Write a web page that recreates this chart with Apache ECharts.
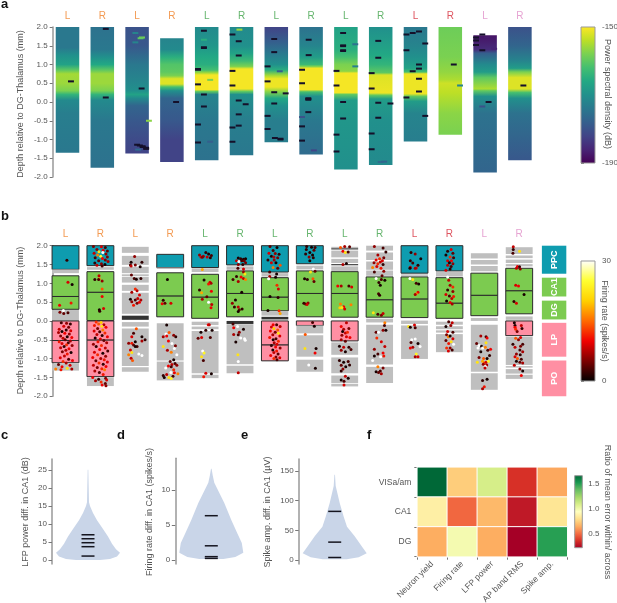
<!doctype html>
<html>
<head>
<meta charset="UTF-8">
<title></title>
<script src="https://cdn.jsdelivr.net/npm/echarts@6/dist/echarts.min.js"></script>
<style type="text/css">
	html,body{margin:0;padding:0;background:#fff;}
	#main{width:617px;height:603px;}
</style>
</head>
<body>
<div id="main"></div>
<script type="text/javascript">
var sides=['L','R','L','R','L','R','L','R','L','R','L','R','L','R'];
var labTeams=['#F39A52','#F39A52','#F39A52','#F39A52','#66B56E','#66B56E','#66B56E','#66B56E','#66B56E','#66B56E','#DE5560','#DE5560','#E6A3D2','#E6A3D2'];

// a: power along each probe, [depth mm, dB]
var power1=[[2,-174],[1.45,-174],[1.25,-170],[1,-167],[.85,-160],[.75,-155.5],[.5,-156],[.3,-158],[.2,-164],[.05,-171],[-.3,-173],[-1.35,-174]];
var power2=[[2,-175],[1.4,-174],[1.2,-170],[1,-166],[.85,-160],[.75,-156],[.5,-156],[.3,-158],[.2,-164],[.05,-171],[-.5,-174],[-1.75,-175]];
var power3=[[2,-180],[1.5,-179],[1.3,-177],[1,-174],[.6,-172],[.3,-170],[.2,-167],[.1,-171],[-.1,-177],[-.5,-179],[-1,-181],[-1.37,-182]];
var power4=[[1.7,-172],[1.4,-171],[1.2,-165],[1,-161],[.8,-160],[.7,-158],[.62,-152],[.48,-152],[.4,-162],[.3,-170],[.1,-177],[-.5,-179],[-1,-182],[-1.6,-182]];
var power5=[[2,-171],[1.5,-169],[1.2,-166],[1,-165],[.85,-162],[.78,-156],[.72,-150.5],[.33,-150.5],[.28,-160],[.2,-172],[-.5,-174],[-1.55,-175]];
var power6=[[2,-171],[1.5,-170],[1.3,-167],[1.1,-163],[.95,-158],[.88,-150.5],[.35,-150.5],[.28,-160],[.2,-170],[-.5,-173],[-1.42,-174]];
var power7=[[2,-182],[1.6,-178],[1.3,-174],[1,-170],[.85,-165],[.7,-155],[.62,-151],[.4,-151],[.28,-157],[.1,-166],[-.1,-170],[-.5,-173],[-1.07,-173]];
var power8=[[2,-175],[1.5,-172],[1.2,-168],[1,-163],[.95,-158],[.9,-150.5],[.33,-150.5],[.27,-162],[.15,-170],[-.5,-174],[-1.4,-176]];
var power9=[[2,-167],[1.4,-165],[1.2,-162],[1,-158],[.82,-157],[.77,-150.5],[.25,-150.5],[.2,-160],[.05,-168],[-.5,-169],[-1.8,-170]];
var power10=[[2,-170],[1.6,-168],[1.25,-166],[1,-164],[.78,-160],[.72,-152],[.24,-151],[.18,-160],[.08,-168],[-.5,-170],[-1.68,-171]];
var power11=[[2,-174],[1.5,-172],[1.2,-170],[.9,-167],[.8,-162],[.75,-151],[.22,-151],[.15,-160],[.02,-168],[-.3,-172],[-1.05,-173]];
var power12=[[2,-159],[1.2,-158],[.8,-156.5],[.6,-155],[.5,-153],[.25,-154],[-.3,-157],[-.87,-158]];
var power13=[[1.78,-188],[1.4,-185],[1.3,-178],[1,-171],[.8,-168],[.65,-160],[.35,-155],[.3,-160],[.15,-170],[-.3,-175],[-1.88,-177]];
var power14=[[2,-180],[1.5,-177],[1.1,-172],[.9,-168],[.8,-158],[.65,-152],[.35,-152],[.25,-162],[.1,-170],[-.3,-175],[-1.55,-179]];
var powerProbes=[power1,power2,power3,power4,power5,power6,power7,power8,power9,power10,power11,power12,power13,power14];

// a: bad channels, [offset, depth, dB], no dB means black
var dashes1=[[.1,.55]];
var dashes2=[[.1,1.95],[.1,.12]];
var dashes3=[[.13,.36],[.34,-.5,-157],[.14,1.72,-158],[.1,1.7,-160],[-.05,1.59,-172],[-.05,1.84,-172],[0,-1.14],[.08,-1.16],[.16,-1.18],[.26,-1.22],[.26,-1.25],[.16,-1.2],[.03,-1.27,-176]];
var dashes4=[[.12,0]];
var dashes5=[[-.08,1.9],[-.08,1.46],[-.08,1.44],[-.25,.88],[-.25,.86],[-.25,.47],[-.08,.2],[-.08,-.12],[-.25,-.6],[-.25,-1.08],[.1,.59,-158],[.1,-1.06,-178],[-.08,1.66,-165]];
var dashes6=[[-.06,1.93,-156],[-.26,1.8],[-.08,1.62],[-.08,1.24],[-.26,.83],[-.26,.44],[-.08,.04],[.12,-.06],[-.08,-.33],[-.08,-.63],[-.26,-.68],[-.26,-1.06]];
var dashes7=[[-.25,.95],[-.06,1.68],[-.06,1.33],[-.25,.55],[-.06,.26],[.27,.23],[-.06,-.04],[-.25,-.37],[-.25,-.72],[.1,.82,-178],[-.04,-.96],[.12,-1],[.12,-.98]];
var dashes8=[[-.07,1.66],[-.07,1.25],[-.26,.86],[-.26,.5],[-.08,.1],[-.08,.08],[-.08,.06],[-.08,-.27],[-.26,-.65],[-.26,-1.03],[.08,-1.29,-182],[-.26,-.4,-180]];
var dashes9=[[-.08,1.84],[-.08,1.51],[-.08,1.49],[-.08,1.38],[-.08,1.36],[-.27,.83],[-.27,.44],[-.08,0],[-.08,-.44],[-.27,-.87],[-.27,-1.32],[.27,1.54,-175],[.27,.95,-173]];
var dashes10=[[-.07,1.63],[-.07,1.18],[-.26,.77],[-.26,.36],[-.07,-.02],[.28,-.04],[-.07,-.42],[-.26,-.84],[-.26,-1.26],[0,-1.6,-176],[.1,-1.59,-177]];
var dashes11=[[-.26,1.8],[-.08,1.84],[.1,1.88],[.28,1.56],[-.26,1.38],[.1,1],[.1,.89],[-.08,.82],[.1,.62],[.1,.28],[-.26,.12],[.28,-.37]];
var dashes12=[[.1,1],[.28,.44,-172]];
var dashes13=[[.1,0],[-.08,-.12,-180],[-.08,1.8],[-.26,1.72],[.05,1.72,-187],[-.26,1.64],[-.26,1.52],[-.08,1.38],[.26,1.42,-186]];
var dashes14=[[.1,.44]];
var dashProbes=[dashes1,dashes2,dashes3,dashes4,dashes5,dashes6,dashes7,dashes8,dashes9,dashes10,dashes11,dashes12,dashes13,dashes14];

// b: brain regions along each probe, [top, bottom, region]
var regionNames=['PPC','CA1','DG','LP','PO','grey','dark'];
var regions1=[[2,1.37,0],[1.37,1.27,5],[1.2,.65,1],[.65,.31,2],[.29,0,5],[0,-.52,3],[-.52,-1.11,4],[-1.13,-1.32,5]];
var regions2=[[2,1.47,0],[1.43,1.36,5],[1.31,.76,1],[.76,.01,2],[0,-.51,3],[-.51,-1.48,4],[-1.5,-1.73,5]];
var regions3=[[1.97,1.81,5],[1.73,1.49,5],[1.44,1.27,5],[1.24,1.19,5],[1.17,1.02,5],[.96,.8,5],[.75,.19,5],[.14,.03,6],[-.03,-.15,5],[-.2,-1.2,5],[-1.23,-1.35,5]];
var regions4=[[1.77,1.42,0],[1.42,1.38,5],[1.28,.66,1],[.66,.11,2],[-.06,-1.05,5],[-1.08,-1.58,5]];
var regions5=[[2,1.42,0],[1.4,1.3,5],[1.24,.63,1],[.63,.07,2],[-.02,-.11,5],[-.15,-.22,5],[-.27,-1.39,5],[-1.43,-1.52,5]];
var regions6=[[2,1.49,0],[1.45,1.36,5],[1.33,.73,1],[.73,.11,2],[0,-.08,6],[-.09,-1.15,5],[-1.19,-1.39,5]];
var regions7=[[2,1.3,0],[1.27,1.18,5],[1.15,.63,1],[.63,.27,2],[.25,.14,5],[.11,.04,6],[0,-.64,3],[-.64,-1.06,4]];
var regions8=[[2,1.52,0],[1.47,1.37,5],[1.33,.73,1],[.73,.11,2],[0,-.12,3],[-.12,-.33,5],[-.38,-.95,5],[-1.03,-1.35,5]];
var regions9=[[1.97,1.93,5],[1.93,1.9,6],[1.87,1.69,5],[1.65,1.54,5],[1.51,1.48,6],[1.45,1.33,5],[1.31,.73,1],[.73,.1,2],[0,-.53,3],[-.57,-.9,5],[-.97,-1.39,5],[-1.45,-1.65,5],[-1.67,-1.74,5]];
var regions10=[[2,1.87,5],[1.82,1.62,5],[1.58,1.36,5],[1.34,1.2,5],[1.17,.56,1],[.56,.1,2],[.06,-.04,5],[-.1,-1.16,5],[-1.22,-1.65,5]];
var regions11=[[2,1.27,0],[1.24,1.2,5],[1.17,.58,1],[.58,.09,2],[.01,-.08,5],[-.12,-1.01,5]];
var regions12=[[2,1.33,0],[1.3,1.18,5],[1.15,.47,1],[.47,.07,2],[-.02,-.1,5],[-.14,-.22,5],[-.25,-.31,5],[-.35,-.83,5]];
var regions13=[[1.8,1.66,5],[1.62,1.5,5],[1.46,1.32,5],[1.27,.68,1],[.68,.14,2],[.08,0,5],[-.1,-1.35,5],[-1.39,-1.83,5]];
var regions14=[[1.96,1.78,5],[1.74,1.67,5],[1.63,1.54,5],[1.51,1.45,5],[1.4,.8,1],[.8,.19,2],[.12,.03,5],[0,-.39,3],[-.42,-1.17,5],[-1.2,-1.24,5],[-1.28,-1.4,5],[-1.43,-1.54,5]];
var regionProbes=[regions1,regions2,regions3,regions4,regions5,regions6,regions7,regions8,regions9,regions10,regions11,regions12,regions13,regions14];

// b: region key on the right
var keyNames=['PPC','CA1','DG','LP','PO'];
var keyTops=[2,1.15,.54,-.05,-1.05];
var keyBottoms=[1.255,.65,.04,-.95,-2];
var keyColors=['#0E9CAF','#7CCB50','#7CCB50','#FF8FA3','#FF8FA3'];

// b: units, [offset, depth, firing rate]
var units1=[[.04,1.61,2],[.07,1.03,9],[.19,.97,1],[-.17,.42,10],[.16,.48,11],[-.06,.28,30],[-.16,.23,5],[-.05,.2,4],[.07,.22,3],[-.12,-.05,3],[.03,-.06,6],[.14,-.08,2],[-.05,-.14,9],[.09,-.17,5],[-.18,-.22,8],[.02,-.24,2],[.15,-.26,9],[-.1,-.28,1],[-.2,-.31,7],[-.02,-.33,10],[.11,-.35,6],[-.14,-.4,5],[.05,-.42,1],[.18,-.44,10],[-.07,-.46,8],[-.01,-.5,4],[.14,-.53,7],[-.18,-.55,11],[.08,-.58,3],[-.1,-.6,9],[.03,-.63,12],[.19,-.65,6],[-.04,-.68,2],[-.14,-.71,8],[.1,-.74,10],[.01,-.78,7],[-.09,-.82,5],[.16,-.84,1],[.05,-.88,11],[-.03,-.93,8],[-.15,-.98,9],[.09,-1.02,3],[.2,-1.05,10],[-.07,-1.08,12],[.02,-1.12,7],[-.2,-1.16,4],[.13,-1.18,9],[-.1,-1.22,10],[.05,-1.26,22],[.18,-1.28,7],[-.28,-1.28,16],[-.13,-1.3,11]];
var units2=[[-.2,1.98,5],[.03,1.97,9],[.14,1.95,3],[-.1,1.9,6],[.08,1.88,10],[.2,1.86,4],[-.04,1.84,22],[.07,1.82,30],[-.18,1.8,8],[.16,1.78,6],[-.08,1.75,16],[.01,1.72,24],[.2,1.7,5],[-.15,1.68,3],[.06,1.66,10],[.14,1.62,5],[-.05,1.6,4],[.22,1.58,7],[-.16,1.54,2],[.03,1.52,6],[.13,1.5,1],[-.1,1.48,8],[.05,1.46,3],[-.04,1.2,8],[-.03,1.12,16],[-.16,1.1,2],[-.05,1.1,3],[.05,1.06,6],[.05,.85,14],[.05,.65,10],[-.03,.3,1],[-.02,.26,2],[.09,.33,9],[-.12,-.03,12],[.02,-.04,20],[-.05,-.08,14],[.1,-.1,7],[-.17,-.12,11],[.04,-.14,22],[.16,-.17,10],[-.08,-.2,5],[.07,-.24,16],[-.18,-.27,9],[-.02,-.29,3],[.13,-.32,12],[-.1,-.36,8],[.05,-.39,2],[.2,-.42,10],[-.15,-.45,1],[0,-.48,9],[.1,-.52,4],[-.07,-.55,11],[.18,-.58,7],[-.2,-.62,6],[.03,-.65,12],[-.12,-.68,2],[.14,-.72,8],[-.02,-.76,10],[.21,-.8,3],[-.17,-.83,9],[.07,-.86,1],[-.08,-.9,12],[.15,-.94,6],[-.22,-.97,10],[.01,-1,7],[.11,-1.03,11],[-.13,-1.06,4],[.2,-1.09,9],[-.04,-1.12,12],[.08,-1.15,2],[-.2,-1.18,8],[.16,-1.21,10],[-.09,-1.24,5],[.04,-1.27,12],[.12,-1.3,16],[-.16,-1.33,7],[-.03,-1.37,3],[.08,-1.42,11],[-.22,-1.5,10],[.15,-1.52,5],[-.05,-1.55,2],[.18,-1.57,9],[-.14,-1.59,7],[.02,-1.62,12],[.14,-1.66,4],[.05,-1.7,10],[.16,-1.72,6]];
var units3=[[-.02,1.71,6],[-.12,1.56,1],[.19,1.56,2],[-.14,1.49,3],[0,1.49,5],[.14,1.44,1],[-.12,1.46,8],[-.11,1.22,4],[-.03,1.13,3],[.03,1.11,1],[.16,1.13,2],[0,.85,12],[-.1,.76,7],[.05,.8,8],[-.14,.58,1],[-.1,.51,6],[-.05,.42,11],[0,.56,3],[.07,.6,8],[.12,.69,9],[.16,.56,7],[.05,.47,5],[.12,.5,10],[.03,-.21,14],[-.05,-.33,3],[-.1,-.42,9],[.19,-.42,1],[.28,-.5,2],[-.19,-.59,6],[-.1,-.59,11],[0,-.55,1],[-.05,-.64,4],[.19,-.53,7],[.05,-.68,3],[-.14,-.77,9],[0,-.68,1],[-.1,-.84,22],[.1,-.88,30],[-.19,-.9,16],[.19,-.92,30],[-.12,-.99,8],[-.08,-1.05,14]];
var units4=[[-.08,1.1,1],[-.2,.55,2],[-.23,.46,10],[-.15,.47,4],[.02,.47,9],[-.1,-.11,1],[-.03,-.31,14],[-.12,-.35,30],[-.1,-.4,10],[-.2,-.42,7],[.1,-.38,6],[.16,-.42,2],[-.05,-.53,10],[.05,-.6,30],[-.2,-.68,22],[.15,-.66,5],[.03,-.83,16],[.12,-.73,30],[-.08,-.78,7],[.19,-.9,30],[.1,-1.03,1],[0,-1.08,4],[.14,-1.13,3],[.05,-1.16,8],[-.05,-1.2,10],[.19,-1.18,6],[-.13,-1.25,30],[.03,-1.22,3],[.1,-1.3,12],[-.2,-1.45,2],[-.1,-1.42,8],[.02,-1.37,30],[.12,-1.38,10],[.22,-1.4,16],[-.04,-1.5,22],[.08,-1.47,3],[.03,-1.53,24],[-.17,-1.5,1]];
var units5=[[-.16,1.75,6],[-.12,1.7,9],[-.05,1.72,7],[.02,1.82,2],[.1,1.78,1],[.06,1.7,8],[.15,1.68,2],[.18,1.74,3],[-.08,1.69,5],[-.08,1.37,18],[-.03,1.09,1],[.14,1.03,9],[.17,1,7],[.1,.98,11],[-.16,.82,2],[-.1,.75,18],[.05,.64,4],[.18,.79,10],[-.08,.58,7],[.1,.5,30],[.19,.44,8],[.17,.35,10],[.09,-.1,10],[-.12,-.3,1],[.02,-.25,2],[.2,-.25,1],[.12,-.1,8],[-.2,-.46,4],[-.1,-.44,9],[.15,-.44,3],[-.07,-.8,30],[-.03,-.85,24],[-.1,-.95,22],[-.05,-1.05,3],[.02,-1.39,9],[.18,-1.4,1],[-.04,-1.48,11]];
var units6=[[-.05,1.67,1],[.02,1.65,2],[.1,1.64,1],[.16,1.65,1],[-.1,1.6,8],[-.03,1.58,30],[.05,1.6,3],[.12,1.6,4],[.16,1.55,5],[-.05,1.5,6],[.08,1.5,2],[.1,1.38,9],[-.06,1.4,3],[.1,1.3,6],[.14,1.25,22],[-.1,1.18,2],[.03,1.17,10],[.1,1.13,8],[-.2,1.1,3],[-.05,1.05,7],[.16,1.1,16],[.05,.76,1],[-.13,.56,1],[-.22,.47,6],[-.16,.37,2],[-.05,.37,8],[-.02,.3,4],[.06,.32,2],[-.05,.25,1],[-.2,-.08,3],[-.18,-.18,10],[-.07,-.15,30],[-.02,-.3,6],[.1,-.22,1],[-.18,-.36,7],[-.05,-.37,3],[.02,-.45,30],[.15,-.51,30],[-.12,-.56,1],[.13,-.47,30],[-.06,-.9,22],[-.05,-1.08,30],[-.05,-1.38,8]];
var units7=[[-.14,1.98,4],[.06,1.95,1],[-.05,1.87,3],[-.17,1.8,9],[.01,1.79,6],[.12,1.77,2],[-.1,1.72,1],[-.03,1.7,8],[.08,1.68,5],[-.2,1.62,2],[-.02,1.62,7],[.03,1.55,1],[-.1,1.55,9],[.15,1.48,14],[-.05,1.42,16],[.08,1.4,4],[-.15,1.3,3],[.05,1.25,1],[-.15,1.18,7],[.02,1.16,1],[-.18,1.12,30],[.06,.95,12],[.1,.85,9],[-.14,.65,1],[.09,.62,2],[-.2,.28,1],[.12,.27,12],[.15,.2,18],[-.05,-.1,10],[.05,-.1,3],[-.1,-.16,9],[.15,-.15,8],[-.03,-.2,20],[.08,-.24,14],[-.13,-.27,10],[.01,-.3,5],[.1,-.33,22],[-.06,-.37,7],[.14,-.4,9],[-.15,-.44,11],[.03,-.47,3],[-.05,-.5,1],[.1,-.54,12],[-.02,-.58,7],[.06,-.62,9],[-.1,-.65,2],[.02,-.69,10],[.15,-.72,6],[-.06,-.77,1],[.05,-.8,11],[-.03,-.84,8],[.09,-.88,4],[-.12,-.92,10],[.03,-.96,5],[.14,-.98,9],[-.03,-1,12],[.06,-1.03,3]];
var units8=[[-.09,1.98,2],[.05,1.96,1],[.15,1.95,3],[-.1,1.9,2],[.12,1.88,4],[0,1.82,1],[-.12,1.78,2],[.08,1.75,1],[-.02,1.7,6],[.1,1.68,2],[0,1.6,1],[.1,1.38,30],[.02,1.3,22],[.15,1.32,4],[-.15,1.12,1],[-.07,1.1,2],[.09,1.12,14],[.12,1.05,4],[-.17,.47,2],[-.12,.45,3],[-.05,.48,6],[-.08,.44,9],[.08,-.04,3],[.13,-.14,1],[-.13,-.36,14],[-.14,-.73,22],[.15,-.85,10],[.18,-.73,1],[-.03,-1.17,30],[.16,-1.26,1]];
var units9=[[-.12,1.95,14],[0,1.98,7],[.14,1.97,4],[-.05,1.85,10],[.02,1.82,22],[.1,1.83,3],[-.05,1.5,7],[.05,1.53,1],[-.2,.93,10],[-.1,.93,7],[.12,.93,3],[.2,.9,9],[-.12,.45,16],[-.03,.38,10],[-.14,.35,20],[-.08,.36,22],[.18,.43,16],[0,.32,9],[.05,-.05,8],[-.1,-.15,10],[-.03,-.22,7],[.12,-.2,5],[-.06,-.28,1],[.02,-.32,8],[.08,-.3,12],[-.08,-.38,6],[.05,-.42,9],[.15,-.44,10],[-.1,-.5,7],[.02,-.54,4],[-.15,-.67,1],[-.03,-.7,8],[.12,-.7,2],[.18,-.76,3],[-.1,-.78,6],[.02,-.82,1],[-.15,-1.05,2],[-.03,-1.1,1],[.1,-1.08,3],[-.1,-1.18,4],[.03,-1.22,1],[.14,-1.17,2],[-.05,-1.28,6],[-.1,-1.33,2],[.02,-1.47,8],[.1,-1.52,1],[-.02,-1.6,3],[-.1,-1.57,1],[-.02,-1.7,9]];
var units10=[[-.15,1.98,6],[.1,1.94,3],[.18,1.83,2],[-.05,1.75,7],[.12,1.68,5],[-.1,1.62,10],[0,1.65,12],[.08,1.6,9],[.02,1.57,8],[-.16,1.55,6],[-.05,1.52,12],[.1,1.5,2],[-.2,1.42,16],[-.08,1.45,9],[.04,1.4,11],[.12,1.32,6],[-.15,1.3,3],[.07,1.2,4],[-.1,1.13,30],[-.02,1.02,2],[.05,1.1,3],[.15,1.08,1],[.02,.95,1],[-.03,.72,3],[0,.68,2],[-.18,.22,22],[.05,.15,5],[-.05,.18,3],[.1,.2,8],[.15,-.05,16],[.14,-.12,3],[.1,-.25,6],[-.1,-.3,4],[-.03,-.3,30],[.18,-.25,1],[-.08,-.45,12],[.05,-.55,9],[.15,-.68,8],[-.15,-.75,6],[-.05,-.88,3],[.1,-.85,10],[-.15,-.93,1],[.03,-.95,30],[.12,-.93,11],[-.2,-1.05,30],[-.05,-1.22,16],[.1,-1.25,5],[.02,-1.33,3],[-.1,-1.35,1],[.05,-1.4,7],[-.03,-1.37,4]];
var units11=[[-.1,1.82,2],[.02,1.78,6],[.18,1.65,1],[-.12,1.6,2],[-.05,1.54,3],[.1,1.48,2],[-.12,1.43,8],[.05,1.41,9],[-.13,1.4,1],[.02,1.4,7],[-.13,1.13,30],[-.05,1.1,22],[.05,1,3],[.12,.98,1],[.1,.76,10],[.05,.72,16],[.02,.7,7],[-.17,-.15,22],[-.12,-.17,1],[0,-.11,9],[.02,-.18,3],[-.08,-.5,30],[.02,-.48,30],[-.1,-.57,3],[.16,-.68,30],[-.05,-.7,7],[.1,-.6,1],[-.12,-.72,10],[.05,-.88,24],[.1,-.95,9],[.02,-.95,7]];
var units12=[[-.05,1.85,2],[.05,1.9,9],[.1,1.8,4],[-.1,1.75,1],[.02,1.7,12],[.12,1.68,3],[-.05,1.6,9],[.06,1.6,10],[0,1.55,1],[.1,1.52,6],[-.05,1.48,8],[.05,1.45,3],[.02,1.38,2],[-.1,1.35,9],[-.05,1.17,30],[-.02,1.08,8],[.02,.95,7],[.1,.9,12],[-.05,.82,2],[.1,.78,6],[-.1,.7,9],[0,.66,3],[.07,.6,8],[.12,.65,11],[-.08,.53,1],[.02,.49,10],[.08,.45,7],[-.02,-.02,3],[.08,-.05,8],[-.1,-.15,1],[.04,-.12,6],[-.05,-.28,9],[.1,-.3,3],[-.08,-.37,5],[-.03,-.42,16],[.02,-.4,1],[.1,-.47,9],[-.1,-.52,4],[.05,-.55,22],[-.02,-.6,11],[.12,-.62,30],[.02,-.72,6],[-.08,-.72,12],[.08,-.77,3],[-.03,-.8,9]];
var units13=[[-.1,-.4,7],[.05,-.42,3],[.08,-.45,10],[-.22,-.6,4],[-.15,-.65,30],[.05,-.58,22],[-.08,-.67,1],[-.05,-.72,30],[.03,-.7,16],[.18,-.75,10],[-.18,-.72,30],[.1,-.78,3],[-.1,-.82,1],[.15,-.92,2],[-.15,-.97,5],[-.02,-1,14],[.08,-1,1],[-.2,-1.1,22],[-.05,-1.07,18],[0,-1.12,14],[.05,-1.1,9],[.07,-1.17,7],[.12,-1.07,24],[-.03,-1.15,6],[.03,-1.21,30],[.02,-1.25,8],[-.05,-1.58,2],[.08,-1.55,1],[0,-1.75,11],[-.05,-1.8,7]];
var units14=[[-.17,1.97,8],[-.17,1.9,2],[.01,1.85,22],[-.18,1.8,3],[-.05,1.45,10],[.01,1.44,2],[-.08,1.4,8],[.03,1.38,6],[-.1,.95,9],[-.02,.93,10],[-.15,.52,2],[-.08,.47,9],[.14,.7,1],[-.12,-.12,1],[-.12,-.17,10],[-.1,-.22,12],[-.06,-.28,5],[.06,-.12,8],[-.14,-.05,1],[.08,-.2,2],[-.1,-.46,14],[-.02,-.5,6],[.04,-.44,9],[-.18,-.62,2],[.1,-.62,3],[.04,-.67,5],[-.12,-.7,8],[.02,-.77,3],[.1,-.82,7],[-.08,-.88,6],[.03,-.9,2],[-.12,-.95,9],[-.05,-1,14],[.06,-1.02,3],[-.08,-1.07,1],[.02,-1.1,4],[.1,-1.12,7],[-.14,-1.18,8],[.02,-1.28,6],[.1,-1.33,1],[.06,-1.45,10]];
var unitProbes=[units1,units2,units3,units4,units5,units6,units7,units8,units9,units10,units11,units12,units13,units14];

// c,d,e: violin outlines, [value, half width]
var lfpViolin=[[0,12],[.3,22],[1,29],[2,32],[3,28],[4.5,24],[6.5,20],[9,14],[11,9],[13,5],[15,2],[16,1],[20,.7],[25,.3]];
var lfpDiffs=[1.1,3.7,4.8,5.9,7];
var rateViolin=[[.1,12],[.4,24],[1,32],[2.4,30.5],[3.8,26],[5.7,20],[8.1,13],[11,3],[12,1.5],[13,.3]];
var rateDiffs=[.2,.45,2,6.3];
var ampViolin=[[1,12],[4.5,24],[11,32],[23,27],[40,20],[56,12.3],[73,9],[96,5],[125,1],[144,.3]];
var ampDiffs=[4,30,82];

// f: ratio heatmap
var metricNames=['Neuron yield','Firing rate','LFP power','AP band RMS','Spike amp.'];
var areaNames=['VISa/am','CA1','DG'];
var ratioVisa=[1.67,.75,1.1,.37,.645];
var ratioCa1=[.875,.5,.69,.3,.83];
var ratioDg=[.66,.99,.66,.226,1.5];

var viridis=['#440154','#482475','#414487','#355F8D','#2A788E','#21908C','#22A884','#44BF70','#7AD151','#BDDF26','#FDE725'];
var hot=['#000000','#7a0000','#f00000','#ff6a00','#ffd000','#ffff30','#ffffff'];
var rdylgn=['#a50026','#d73027','#f46d43','#fdae61','#fee08b','#ffffbf','#d9ef8b','#a6d96a','#66bd63','#1a9850','#006837'];
var regionColors=['#0E9CAF','#7CCB50','#7CCB50','#FF8FA3','#FF8FA3','#BFBFBF','#333333'];
var violinColor='#C9D5E8';
var textColor='#555555';
var axisColor='#999999';
var fontName='"Liberation Sans", Arial, sans-serif';

function dbColor(db){
	return echarts.color.lerp((db+190)/40,viridis);
}
function valueAxisStyle(lw){
	return {
		axisLine:{show:true,onZero:false,lineStyle:{color:axisColor,width:lw}},
		axisTick:{show:true,length:3,lineStyle:{color:'#777777',width:1}},
		splitLine:{show:false}
	};
}
function depthLabel(v){return v.toFixed(1);}

var grids=[
	{left:50.1,top:27,width:487.2,height:150},
	{left:581,top:27,width:14,height:136},
	{left:48.05,top:245.7,width:523.5,height:150.5},
	{left:581,top:261,width:14,height:120},
	{left:52,top:459,width:72,height:105},
	{left:175.3,top:458.3,width:72,height:105.7},
	{left:298.7,top:459,width:72,height:105},
	{left:417.3,top:467.3,width:150,height:89.4},
	{left:574.7,top:475.7,width:7.6,height:72}
];
grids.forEach(function(g){g.outerBoundsMode='none';});
var xAxes=[],yAxes=[],series=[];

function hiddenX(grid,min,max){
	xAxes.push({type:'value',gridIndex:grid,show:false,min:min,max:max});
	return xAxes.length-1;
}
function topLabels(grid,extra){
	var cats=sides.map(function(s,i){return {value:s,textStyle:{color:labTeams[i]}};});
	if(extra)cats.push({value:''});
	xAxes.push({type:'category',gridIndex:grid,position:'top',data:cats,
		axisLine:{show:false},axisTick:{show:false},
		axisLabel:{margin:6,interval:0,fontSize:10,fontFamily:fontName}});
}
function depthAxis(grid,off){
	yAxes.push(Object.assign({type:'value',gridIndex:grid,min:-2,max:2,interval:.5,offset:off,
		axisLabel:{color:textColor,fontSize:8,margin:5,fontFamily:fontName,formatter:depthLabel}},valueAxisStyle(1.5)));
	return yAxes.length-1;
}

// panel a
var xa=hiddenX(0,-.5,13.5);topLabels(0,false);
var ya=depthAxis(0,-2.6);
series.push({type:'custom',xAxisIndex:xa,yAxisIndex:ya,silent:true,encode:{x:0,y:1},
	data:powerProbes.map(function(p,i){return [i,p[0][0]];}),
	renderItem:function(params,api){
		var p=powerProbes[params.dataIndex],i=params.dataIndex;
		var a=api.coord([i-.338,p[0][0]]),b=api.coord([i+.338,p[p.length-1][0]]);
		var span=p[0][0]-p[p.length-1][0];
		var stops=p.map(function(s){return {offset:(p[0][0]-s[0])/span,color:dbColor(s[1])};});
		return {type:'rect',shape:{x:a[0],y:a[1],width:b[0]-a[0],height:b[1]-a[1]},
			style:{fill:new echarts.graphic.LinearGradient(0,0,0,1,stops)}};
	}});
var dashData=[];
dashProbes.forEach(function(list,i){
	list.forEach(function(d){dashData.push([i+d[0],d[1],d[2]||0]);});
});
series.push({type:'custom',xAxisIndex:xa,yAxisIndex:ya,silent:true,encode:{x:0,y:1},data:dashData,
	renderItem:function(params,api){
		var x=api.value(0),y=api.value(1),db=api.value(2);
		var a=api.coord([x-.085,y+.027]),b=api.coord([x+.085,y-.027]);
		return {type:'rect',shape:{x:a[0],y:a[1],width:b[0]-a[0],height:b[1]-a[1]},
			style:{fill:db===0?'#15102a':dbColor(db)}};
	}});

// colour bars
function colorBar(grid,min,max,colors,ticks,fmt,marginV){
	var x=hiddenX(grid,0,1);
	yAxes.push({type:'value',gridIndex:grid,position:'right',min:min,max:max,
		axisLine:{show:false},splitLine:{show:false},
		axisTick:{show:true,length:3,customValues:ticks,lineStyle:{color:'#777777'}},
		axisLabel:{color:textColor,fontSize:8,margin:marginV,fontFamily:fontName,customValues:ticks,formatter:fmt}});
	var y=yAxes.length-1;
	series.push({type:'custom',xAxisIndex:x,yAxisIndex:y,silent:true,encode:{x:0,y:1},data:[[0,max]],
		renderItem:function(params,api){
			var a=api.coord([0,max]),b=api.coord([1,min]);
			var stops=colors.map(function(c,i){return {offset:1-i/(colors.length-1),color:c};}).reverse();
			return {type:'rect',shape:{x:a[0],y:a[1],width:b[0]-a[0],height:b[1]-a[1]},
				style:{fill:new echarts.graphic.LinearGradient(0,0,0,1,stops),stroke:'#999999',lineWidth:1}};
		}});
}
colorBar(1,-190,-150,viridis,[-190,-150],function(v){return String(v);},7);

// panel b
var xb=hiddenX(2,-.5,14.5);topLabels(2,true);
var yb=depthAxis(2,-4.6);
var regionData=[];
regionProbes.forEach(function(list,i){
	list.forEach(function(r){regionData.push([i,r[0],r[1],r[2]]);});
});
series.push({type:'custom',xAxisIndex:xb,yAxisIndex:yb,silent:true,encode:{x:0,y:[1,2]},data:regionData,
	renderItem:function(params,api){
		var i=api.value(0),k=api.value(3);
		var a=api.coord([i-.385,api.value(1)]),b=api.coord([i+.385,api.value(2)]);
		var boxed=k<5;
		return {type:'rect',shape:{x:a[0],y:a[1],width:b[0]-a[0],height:b[1]-a[1]},
			style:{fill:regionColors[k],stroke:boxed?'#2b2b2b':null,lineWidth:boxed?1:0}};
	}});
var keyData=keyNames.map(function(n,i){return [14,keyTops[i],keyBottoms[i]];});
series.push({type:'custom',xAxisIndex:xb,yAxisIndex:yb,silent:true,encode:{x:0,y:[1,2]},data:keyData,
	renderItem:function(params,api){
		var k=params.dataIndex;
		var a=api.coord([14-.35,api.value(1)]),b=api.coord([14+.35,api.value(2)]);
		return {type:'group',children:[
			{type:'rect',shape:{x:a[0],y:a[1],width:b[0]-a[0],height:b[1]-a[1]},style:{fill:keyColors[k]}},
			{type:'text',x:(a[0]+b[0])/2,y:(a[1]+b[1])/2,rotation:Math.PI/2,
				style:{text:keyNames[k],fill:'#ffffff',font:'bold 9px '+fontName,align:'center',verticalAlign:'middle'}}
		]};
	}});
var unitData=[];
unitProbes.forEach(function(list,i){
	list.forEach(function(u){unitData.push([i+u[0],u[1],u[2]]);});
});
series.push({type:'scatter',xAxisIndex:xb,yAxisIndex:yb,silent:true,symbolSize:3,clip:false,itemStyle:{opacity:1},data:unitData,encode:{x:0,y:1},animation:false});
var unitSeries=series.length-1;
colorBar(3,0,30,hot,[0,30],function(v){return String(v);},7);

// panels c,d,e
function violin(grid,outline,diffs,min,max,ticks){
	var x=hiddenX(grid,-36,36);
	yAxes.push(Object.assign({type:'value',gridIndex:grid,min:min,max:max},valueAxisStyle(1.5),{
		axisTick:{show:true,length:3.5,customValues:ticks,lineStyle:{color:'#777777',width:1}},
		axisLabel:{color:textColor,fontSize:8,margin:5,fontFamily:fontName,customValues:ticks}}));
	var y=yAxes.length-1;
	series.push({type:'custom',xAxisIndex:x,yAxisIndex:y,silent:true,encode:{x:0,y:1},data:[[0,outline[0][0]]],
		renderItem:function(params,api){
			var pts=[],i;
			for(i=0;i<outline.length;i++)pts.push(api.coord([outline[i][1],outline[i][0]]));
			for(i=outline.length-1;i>=0;i--)pts.push(api.coord([-outline[i][1],outline[i][0]]));
			return {type:'polygon',shape:{points:pts},style:{fill:violinColor}};
		}});
	series.push({type:'custom',xAxisIndex:x,yAxisIndex:y,silent:true,encode:{x:0,y:1},
		data:diffs.map(function(d){return [0,d];}),
		renderItem:function(params,api){
			var a=api.coord([-6.5,api.value(1)]),b=api.coord([6.5,api.value(1)]);
			return {type:'line',shape:{x1:a[0],y1:a[1],x2:b[0],y2:b[1]},style:{stroke:'#15151f',lineWidth:1.5}};
		}});
}
violin(4,lfpViolin,lfpDiffs,-1.1,28,[0,5,10,15,20,25]);
violin(5,rateViolin,rateDiffs,-.6,14.5,[0,5,10]);
violin(6,ampViolin,ampDiffs,-7,170.6,[0,50,100,150]);

// panel f
xAxes.push({type:'category',gridIndex:7,data:metricNames,position:'bottom',
	axisLine:{show:false},axisTick:{show:true,length:3,lineStyle:{color:'#777777'}},
	axisLabel:{rotate:45,interval:0,color:textColor,fontSize:8.5,margin:6,fontFamily:fontName},splitLine:{show:false}});
var xf=xAxes.length-1;
yAxes.push({type:'category',gridIndex:7,data:areaNames,inverse:true,
	axisLine:{show:false},axisTick:{show:true,length:3,lineStyle:{color:'#777777'}},
	axisLabel:{color:textColor,fontSize:8.5,margin:6,fontFamily:fontName},splitLine:{show:false}});
var yf=yAxes.length-1;
var heatData=[];
[ratioVisa,ratioCa1,ratioDg].forEach(function(row,r){
	row.forEach(function(v,c){heatData.push([c,r,v]);});
});
series.push({type:'heatmap',xAxisIndex:xf,yAxisIndex:yf,silent:true,data:heatData,
	itemStyle:{borderColor:'#ffffff',borderWidth:1}});
var heatSeries=series.length-1;
colorBar(8,.226,1.67,rdylgn,[.5,1,1.5],function(v){return v.toFixed(1);},6);

var panelLetters=[['a',1,4],['b',1,216],['c',1,435],['d',117,435],['e',241,435],['f',367,435]];
var axisTitles=[
	['Depth relative to DG-Thalamus (mm)',21,104,90],
	['Depth relative to DG-Thalamus (mm)',21,320.5,90],
	['Power spectral density (dB)',607,94,-90],
	['Firing rate (spikes/s)',604,321,-90],
	['LFP power diff. in CA1 (dB)',26,512,90],
	['Firing rate diff. in CA1 (spikes/s)',150,512,90],
	['Spike amp. diff. in CA1 (\u00b5V)',268,512,90],
	['Ratio of mean error within/ across',607,512,-90]
];
var graphics=[];
panelLetters.forEach(function(p){
	graphics.push({type:'text',x:p[1],y:p[2],style:{text:p[0],fill:'#111111',font:'bold 13px '+fontName,align:'left',verticalAlign:'middle'}});
});
axisTitles.forEach(function(t){
	graphics.push({type:'text',x:t[1],y:t[2],rotation:t[3]*Math.PI/180,
		style:{text:t[0],fill:textColor,font:'9px '+fontName,align:'center',verticalAlign:'middle'}});
});

var myChart=echarts.init(document.getElementById('main'),null,{renderer:'canvas'});
myChart.setOption({
	animation:false,
	backgroundColor:'#ffffff',
	textStyle:{fontFamily:fontName},
	grid:grids,
	xAxis:xAxes,
	yAxis:yAxes,
	visualMap:[
		{show:false,seriesIndex:unitSeries,dimension:2,min:0,max:30,inRange:{color:hot}},
		{show:false,seriesIndex:heatSeries,dimension:2,min:.226,max:1.67,inRange:{color:rdylgn}}
	],
	graphic:graphics,
	series:series
});
</script>
</body>
</html>
